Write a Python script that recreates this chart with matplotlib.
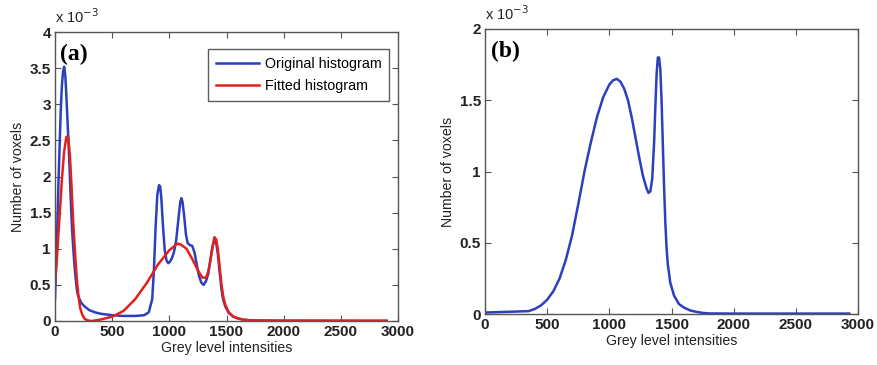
import numpy as np
import matplotlib.pyplot as plt

plt.rcParams['font.family'] = ['Liberation Sans', 'DejaVu Sans']

# panel (a): original histogram (values in 1e-3)
orig_x = [0, 10, 20, 30, 40, 50, 60, 70, 80, 90, 100, 110, 120, 130, 140, 150, 160, 170, 180,
          190, 200, 215, 230, 260, 300, 350, 400, 500, 600, 700, 780, 820, 850, 865, 880, 895,
          910, 920, 930, 945, 960, 975, 990, 1005, 1020, 1040, 1060, 1080, 1095, 1105, 1115,
          1130, 1145, 1160, 1180, 1200, 1220, 1240, 1260, 1280, 1300, 1320, 1340, 1360, 1375,
          1390, 1400, 1410, 1425, 1440, 1455, 1470, 1490, 1520, 1560, 1600, 1650, 1700, 1750,
          2000, 2900]
orig_y = [0.3, 0.8, 1.3, 1.9, 2.4, 2.9, 3.25, 3.45, 3.52, 3.4, 3.1, 2.75, 2.4, 2.0, 1.6, 1.25,
          1.0, 0.78, 0.6, 0.45, 0.36, 0.3, 0.25, 0.2, 0.15, 0.12, 0.1, 0.08, 0.07, 0.07, 0.08,
          0.12, 0.3, 0.7, 1.3, 1.75, 1.88, 1.86, 1.7, 1.3, 0.98, 0.84, 0.8, 0.82, 0.86, 0.95,
          1.12, 1.42, 1.64, 1.7, 1.65, 1.45, 1.2, 1.08, 1.05, 1.04, 0.95, 0.78, 0.62, 0.53,
          0.5, 0.55, 0.65, 0.85, 1.0, 1.1, 1.12, 1.08, 0.92, 0.68, 0.45, 0.3, 0.2, 0.11, 0.06,
          0.035, 0.018, 0.01, 0.005, 0.003, 0.0]

# panel (a): fitted histogram
fit_x = [0, 20, 40, 60, 80, 100, 115, 130, 145, 160, 175, 190, 205, 220, 240, 260, 280, 320,
         400, 500, 600, 700, 800, 900, 1000, 1070, 1100, 1150, 1200, 1250, 1290, 1320, 1340,
         1360, 1380, 1395, 1410, 1425, 1440, 1455, 1470, 1490, 1520, 1560, 1600, 1650, 1700,
         2000, 2900]
fit_y = [0.5, 0.95, 1.45, 1.95, 2.35, 2.55, 2.55, 2.3, 1.85, 1.35, 0.95, 0.6, 0.35, 0.18,
         0.08, 0.03, 0.01, 0.0, 0.02, 0.06, 0.14, 0.3, 0.52, 0.78, 0.98, 1.07, 1.06, 1.0,
         0.86, 0.7, 0.6, 0.6, 0.68, 0.85, 1.05, 1.16, 1.13, 0.98, 0.75, 0.52, 0.35, 0.22,
         0.12, 0.06, 0.035, 0.018, 0.01, 0.005, 0.005]

# panel (b)
b_x = [0, 350, 400, 450, 500, 550, 600, 650, 700, 750, 800, 850, 900, 950, 1000, 1030, 1060,
       1090, 1120, 1150, 1180, 1210, 1240, 1270, 1300, 1315, 1330, 1345, 1360, 1370, 1380,
       1390, 1400, 1410, 1420, 1430, 1440, 1450, 1460, 1470, 1490, 1520, 1560, 1600, 1650,
       1700, 1750, 1800, 2000, 2930]
b_y = [0.01, 0.02, 0.035, 0.06, 0.1, 0.16, 0.25, 0.38, 0.55, 0.77, 1.0, 1.2, 1.38, 1.52,
       1.61, 1.64, 1.65, 1.63, 1.58, 1.5, 1.38, 1.24, 1.1, 0.97, 0.88, 0.85, 0.86, 0.95,
       1.2, 1.45, 1.68, 1.8, 1.8, 1.72, 1.5, 1.2, 0.9, 0.65, 0.47, 0.35, 0.22, 0.13, 0.07,
       0.045, 0.025, 0.015, 0.008, 0.004, 0.003, 0.003]

blue = '#2b3fbf'
red = '#e3211c'


def style_axes(ax, ymax, yticks, ylabels):
    ax.set_xlim(0, 3000)
    ax.set_ylim(0, ymax)
    ax.set_xticks([0, 500, 1000, 1500, 2000, 2500, 3000])
    ax.set_yticks(yticks)
    ax.set_yticklabels(ylabels)
    ax.tick_params(direction='in', top=True, right=True, length=4, width=0.8,
                   color='#555555', labelsize=11, pad=3)
    for lab in ax.get_xticklabels() + ax.get_yticklabels():
        lab.set_fontweight('bold')
        lab.set_color('#222222')
    for s in ax.spines.values():
        s.set_color('#555555')
        s.set_linewidth(1.0)
    ax.set_xlabel('Grey level intensities', fontsize=10.2, labelpad=1, color='#222222')
    ax.set_ylabel('Number of voxels', fontsize=10.2, labelpad=3, color='#222222')
    ax.text(0.0, 1.02, r'x 10$^{-3}$', transform=ax.transAxes, fontsize=10.5,
            ha='left', va='bottom', color='#222222')


fig = plt.figure(figsize=(8.77, 3.65), dpi=100)
ax1 = fig.add_axes([55 / 877, 1 - 321 / 365, 343 / 877, 289 / 365])
ax2 = fig.add_axes([485 / 877, 1 - 314 / 365, 373 / 877, 285 / 365])

ax1.plot(orig_x, orig_y, color=blue, lw=1.8, label='Original histogram')
ax1.plot(fit_x, fit_y, color=red, lw=1.8, label='Fitted histogram')
style_axes(ax1, 4, [0, 0.5, 1, 1.5, 2, 2.5, 3, 3.5, 4],
           ['0', '0.5', '1', '1.5', '2', '2.5', '3', '3.5', '4'])
leg = ax1.legend(loc='upper right', fontsize=10.3, frameon=True, fancybox=False,
                 borderpad=0.55, handlelength=3.0, handletextpad=0.4, labelspacing=0.55,
                 borderaxespad=0, bbox_to_anchor=(0.975, 0.94))
leg.get_frame().set_edgecolor('#333333')
leg.get_frame().set_linewidth(1.0)
ax1.text(0.015, 0.96, '(a)', transform=ax1.transAxes, fontsize=17, fontweight='bold',
         family='Liberation Serif', va='top', ha='left')

ax2.plot(b_x, b_y, color=blue, lw=1.8)
style_axes(ax2, 2, [0, 0.5, 1, 1.5, 2], ['0', '0.5', '1', '1.5', '2'])
ax2.text(0.015, 0.96, '(b)', transform=ax2.transAxes, fontsize=17, fontweight='bold',
         family='Liberation Serif', va='top', ha='left')

fig.savefig('out.png', dpi=100)
